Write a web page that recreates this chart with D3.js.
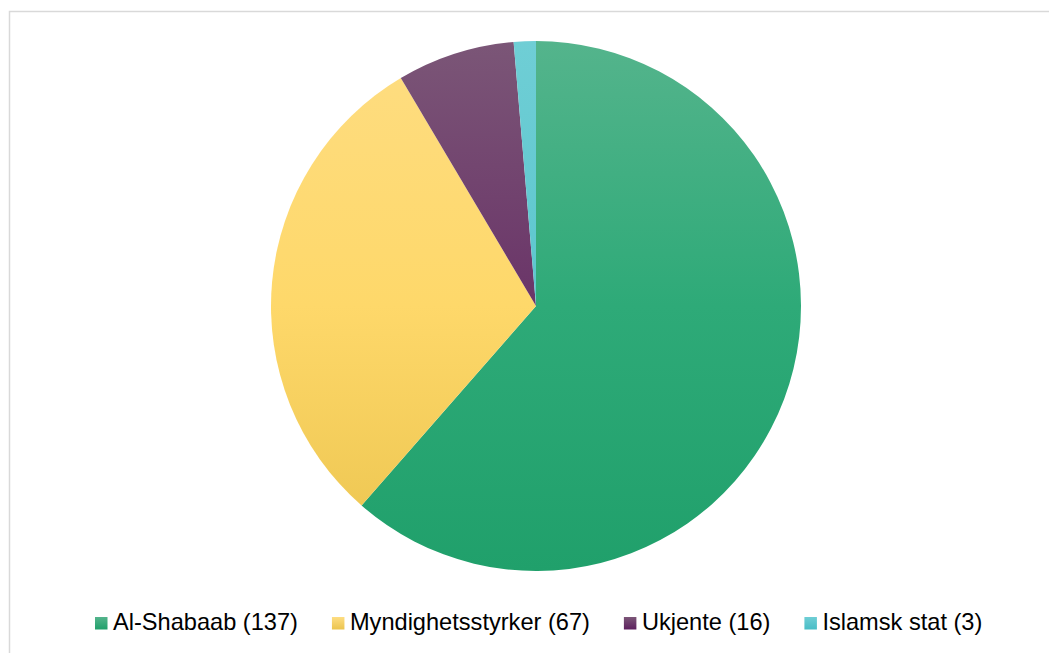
<!DOCTYPE html>
<html><head><meta charset="utf-8">
<script src="https://cdn.jsdelivr.net/npm/d3@7/dist/d3.min.js"></script>
<style>body{margin:0;background:#fff}svg{display:block}</style>
</head><body>
<svg id="c" width="1049" height="653"></svg>
<script>
const categories = ["Al-Shabaab", "Myndighetsstyrker", "Ukjente", "Islamsk stat"];
const values = [137, 67, 16, 3];
const topColors = ["#54b48c", "#fedd82", "#7b5677", "#6fced5"];
const midColors = ["#2eaa78", "#fed86a", "#6a3468", "#5cc6ce"];
const bottomColors = ["#20a06b", "#ebc44e", "#5d1f5f", "#48bdc6"];

const svg = d3.select("#c");
const W = 1049, H = 653;
svg.append("rect").attr("x", 9.5).attr("y", 11.5).attr("width", W).attr("height", H)
  .attr("fill", "#fff").attr("stroke", "#d9d9d9").attr("stroke-width", 1.5);

const cx = 536, cy = 306, r = 265;
const defs = svg.append("defs");
categories.forEach((c, i) => {
  const g = defs.append("linearGradient").attr("id", "g" + i)
    .attr("gradientUnits", "userSpaceOnUse")
    .attr("x1", 0).attr("y1", -r).attr("x2", 0).attr("y2", r);
  g.append("stop").attr("offset", 0).attr("stop-color", topColors[i]);
  g.append("stop").attr("offset", 0.5).attr("stop-color", midColors[i]);
  g.append("stop").attr("offset", 1).attr("stop-color", bottomColors[i]);
  const g2 = defs.append("linearGradient").attr("id", "lg" + i)
    .attr("x1", 0).attr("y1", 0).attr("x2", 0).attr("y2", 1);
  g2.append("stop").attr("offset", 0).attr("stop-color", topColors[i]);
  g2.append("stop").attr("offset", 1).attr("stop-color", bottomColors[i]);
});

const pie = d3.pie().sort(null).value(d => d)(values);
const arc = d3.arc().innerRadius(0).outerRadius(r);
const g = svg.append("g").attr("transform", `translate(${cx},${cy})`);
g.selectAll("path").data(pie).join("path")
  .attr("d", arc)
  .attr("fill", (d, i) => `url(#g${i})`)
  .attr("stroke", "none");

const leg = svg.append("g").attr("font-family", "Liberation Sans, Arial, sans-serif")
  .attr("font-size", 23.6).attr("fill", "#000");
let x = 0;
const items = [];
categories.forEach((c, i) => {
  const it = leg.append("g");
  it.append("rect").attr("x", 0).attr("y", -13).attr("width", 12.5).attr("height", 12.5)
    .attr("fill", `url(#lg${i})`);
  const t = it.append("text").attr("x", 18).attr("y", 0).text(`${c} (${values[i]})`);
  const w = 18 + t.node().getComputedTextLength();
  items.push({it, x, w});
  x += w + 34;
});
const start = 95;
items.forEach(d => d.it.attr("transform", `translate(${start + d.x},630)`));
</script>
</body></html>
